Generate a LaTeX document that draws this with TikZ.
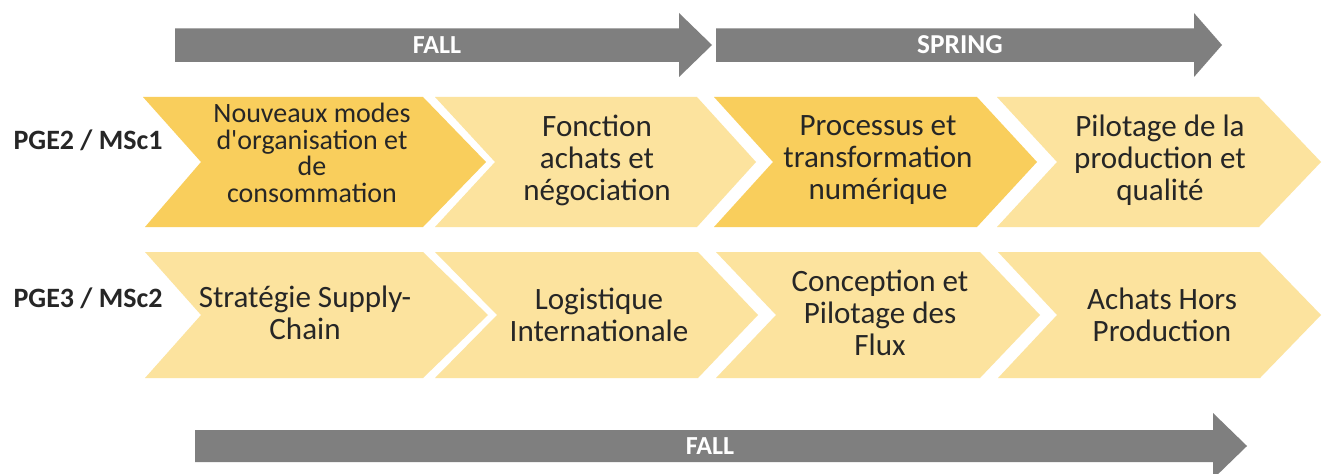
\documentclass[tikz,border=0pt]{standalone}
\usepackage{fontspec}
\setmainfont{Carlito}
\definecolor{arrowgrey}{HTML}{7F7F7F}
\definecolor{darkyel}{HTML}{F9CE5C}
\definecolor{lightyel}{HTML}{FCE39E}
\definecolor{txt}{HTML}{262626}
\newcommand\mychev[5]{% left x, right x, top y, half height, colour
  \fill[#5] (#1,#3) -- (#2,#3) -- ++(63,#4) -- ++(-63,#4) -- (#1,#3) ++(0,#4) ++(0,#4) -- ++(59,-#4) -- cycle;}
\begin{document}
\begin{tikzpicture}[x=0.75pt,y=-0.75pt,
  chevtext/.style={text=txt,align=center,font=\fontsize{23.3}{24}\selectfont},
  rowlabel/.style={text=txt,font=\bfseries\fontsize{21}{24}\selectfont},
  arrowtext/.style={text=white,font=\bfseries\fontsize{19.5}{22}\selectfont}]
\useasboundingbox (0,0) rectangle (1326,474);
\clip (0,0) rectangle (1326,474);
\fill[white] (0,0) rectangle (1326,474);
% top arrows
\fill[arrowgrey] (175,28.5) -- (679,28.5) -- (679,13) -- (712,45) -- (679,77) -- (679,62) -- (175,62) -- cycle;
\node[arrowtext] (fall1) at (437,45) {FALL};
\fill[arrowgrey] (716,28.5) -- (1194,28.5) -- (1194,13) -- (1222,45) -- (1194,77) -- (1194,62) -- (716,62) -- cycle;
\node[arrowtext,font=\bfseries\fontsize{20.5}{22}\selectfont] (spring) at (960,45) {SPRING};
% row 1
\fill[darkyel]  (143,97) -- (423,97) -- (486,162) -- (423,227) -- (145,227) -- (201,162) -- cycle;
\fill[lightyel] (435,97) -- (697,97) -- (756,162) -- (697,227) -- (435,227) -- (495,162) -- cycle;
\fill[darkyel]  (714,97) -- (977,97) -- (1037,162) -- (977,227) -- (714,227) -- (773,162) -- cycle;
\fill[lightyel] (997,97) -- (1259,97) -- (1321,162) -- (1259,227) -- (997,227) -- (1057,162) -- cycle;
\node[rowlabel] (r1) at (88,140) {PGE2 / MSc1};
\node[chevtext,font=\fontsize{21}{20}\selectfont] (a1) at (312,153) {Nouveaux modes\\d\textquotesingle organisation et\\de\\consommation};
\node[chevtext] (a2) at (597,160) {Fonction\\achats et\\négociation};
\node[chevtext] (a3) at (878,160) {Processus et\\transformation\\numérique};
\node[chevtext] (a4) at (1160,160) {Pilotage de la\\production et\\qualité};
% row 2
\fill[lightyel] (145,252) -- (423,252) -- (488,315) -- (423,378) -- (145,378) -- (201,315) -- cycle;
\fill[lightyel] (435,252) -- (698,252) -- (758,315) -- (698,378) -- (435,378) -- (497,315) -- cycle;
\fill[lightyel] (716,252) -- (980,252) -- (1040,315) -- (980,378) -- (716,378) -- (776,315) -- cycle;
\fill[lightyel] (998,252) -- (1260,252) -- (1321,315) -- (1260,378) -- (998,378) -- (1057,315) -- cycle;
\node[rowlabel] (r2) at (88,298) {PGE3 / MSc2};
\node[chevtext] (b1) at (305,313) {Stratégie Supply-\\Chain};
\node[chevtext] (b2) at (599,315) {Logistique\\Internationale};
\node[chevtext] (b3) at (880,313) {Conception et\\Pilotage des\\Flux};
\node[chevtext] (b4) at (1162,315) {Achats Hors\\Production};
% bottom arrow
\fill[arrowgrey] (195,430) -- (1213,430) -- (1213,413) -- (1247,446) -- (1213,479) -- (1213,462) -- (195,462) -- cycle;
\node[arrowtext] (fall2) at (710,446) {FALL};
\end{tikzpicture}
\end{document}
